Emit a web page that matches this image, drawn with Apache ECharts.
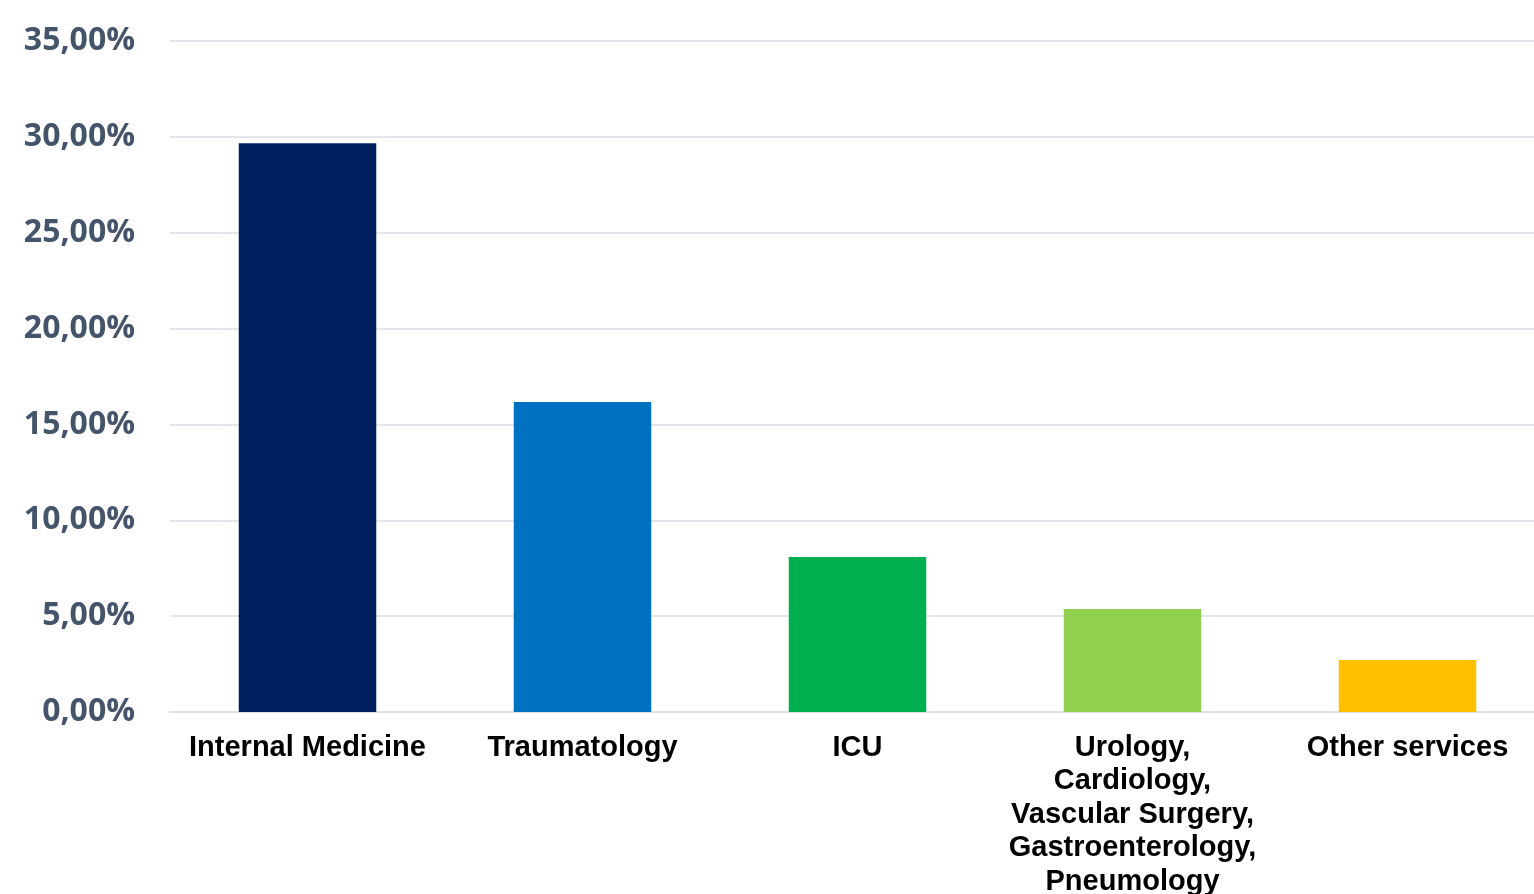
<!DOCTYPE html>
<html>
<head>
<meta charset="utf-8">
<script src="https://cdn.jsdelivr.net/npm/echarts@6/dist/echarts.min.js"></script>
<style>
  html, body { margin: 0; padding: 0; background: #fff; overflow: hidden; }
  #chart { width: 1534px; height: 894px; }
</style>
</head>
<body>
<div id="chart"></div>
<script>
const categories = [
  'Internal Medicine',
  'Traumatology',
  'ICU',
  'Urology,\nCardiology,\nVascular Surgery,\nGastroenterology,\nPneumology',
  'Other services'
]
const values = [29.67, 16.17, 8.08, 5.37, 2.71]
const barColors = ['#002060', '#0070C0', '#00B050', '#92D050', '#FFC000']

const chart = echarts.init(document.getElementById('chart'))
chart.setOption({
  animation: false,
  grid: { left: 170, right: -11, top: 41, bottom: 182, containLabel: false, outerBoundsMode: 'none' },
  xAxis: {
    type: 'category',
    data: categories,
    axisLine: { show: true, lineStyle: { color: '#DCE1E8', width: 2 } },
    axisTick: { show: false },
    axisLabel: {
      interval: 0,
      margin: 19,
      color: '#000',
      fontFamily: 'Liberation Sans, Arial',
      fontWeight: 'bold',
      fontSize: 29,
      lineHeight: 33.5
    }
  },
  yAxis: {
    type: 'value',
    min: 0,
    max: 35,
    interval: 5,
    axisLine: { show: false },
    axisTick: { show: false },
    splitLine: { lineStyle: { color: '#E3E6EA', width: 2 } },
    axisLabel: {
      margin: 35,
      color: '#44546A',
      fontFamily: 'Open Sans',
      fontWeight: 'bold',
      fontSize: 32,
      formatter: v => v.toFixed(2).replace('.', ',') + '%'
    }
  },
  series: [{
    type: 'bar',
    barWidth: '50%',
    data: values.map((v, i) => ({ value: v, itemStyle: { color: barColors[i] } }))
  }]
})
</script>
</body>
</html>
